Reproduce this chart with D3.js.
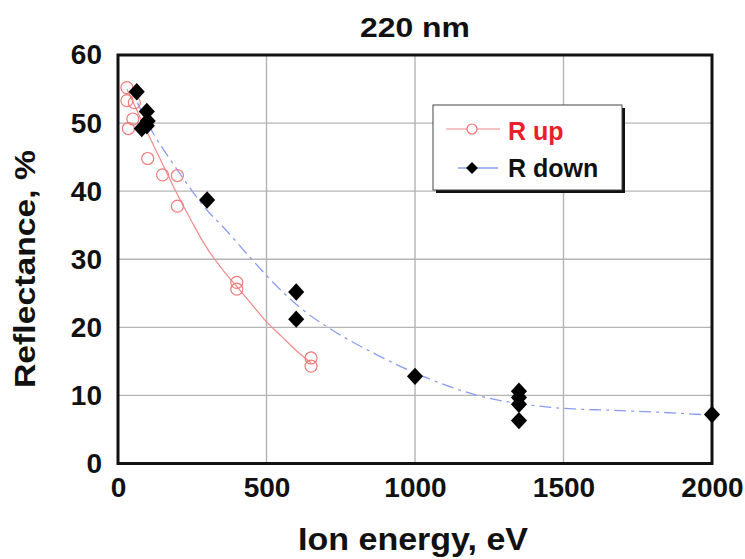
<!DOCTYPE html>
<html lang="en">
<head>
  <meta charset="UTF-8">
  <title>220 nm</title>
  <script src="https://d3js.org/d3.v7.min.js"></script>
  <style>
    body { margin: 0; background: #fff; }
    text { font-family: "Liberation Sans", Arial, sans-serif; font-weight: bold; }
  </style>
</head>
<body>
  <svg width="745" height="559"></svg>
  <script>
    // R up: open red circles
    const upX = [30, 30, 55, 50, 35, 100, 150, 200, 200, 400, 400, 650, 650];
    const upY = [55.2, 53.3, 53, 50.6, 49.2, 44.8, 42.4, 42.3, 37.8, 26.6, 25.6, 15.5, 14.3];
    // R down: black diamonds
    const downX = [63, 97, 80, 97, 100, 300, 600, 600, 1000, 1350, 1350, 1350, 1350, 2000];
    const downY = [54.6, 51.7, 49.2, 49.6, 50.3, 38.7, 25.2, 21.2, 12.8, 10.6, 9.7, 8.7, 6.3, 7.2];
    // trend lines
    const upFitX = [30, 100, 150, 200, 250, 300, 350, 400, 450, 500, 550, 600, 650];
    const upFitY = [55, 48.5, 44, 39.5, 35.4, 31.6, 28.6, 26, 23.4, 20.8, 18.7, 16.6, 14.8];
    const downFitX = [65, 120, 175, 242, 300, 355, 444, 520, 613, 725, 870, 1000, 1220, 1470, 1670, 1835, 2000];
    const downFitY = [53, 48.4, 44.7, 40.5, 37.2, 34.7, 30.3, 26.7, 22.9, 19.5, 16, 13.3, 9.9, 8.2, 7.8, 7.5, 7.1];
    const xTicks = [0, 500, 1000, 1500, 2000];
    const yTicks = [0, 10, 20, 30, 40, 50, 60];

    const svg = d3.select("svg");
    const x = d3.scaleLinear().domain([0, 2000]).range([118, 712]);
    const y = d3.scaleLinear().domain([0, 60]).range([463.5, 55]);

    // grid
    svg.append("g").selectAll("line").data(yTicks.slice(1, -1)).enter().append("line")
      .attr("x1", x(0)).attr("x2", x(2000)).attr("y1", d => y(d)).attr("y2", d => y(d))
      .attr("stroke", "#b4b4b4").attr("stroke-width", 1.4);
    svg.append("g").selectAll("line").data(xTicks.slice(1, -1)).enter().append("line")
      .attr("y1", y(0)).attr("y2", y(60)).attr("x1", d => x(d)).attr("x2", d => x(d))
      .attr("stroke", "#b4b4b4").attr("stroke-width", 1.4);

    // axes (labels only)
    const xAxis = svg.append("g").attr("transform", `translate(0,${y(0)})`)
      .call(d3.axisBottom(x).tickValues(xTicks).tickFormat(d3.format("d")).tickSize(0).tickPadding(14));
    const yAxis = svg.append("g").attr("transform", `translate(${x(0)},0)`)
      .call(d3.axisLeft(y).tickValues(yTicks).tickFormat(d3.format("d")).tickSize(0).tickPadding(16));
    [xAxis, yAxis].forEach(g => {
      g.select(".domain").remove();
      g.attr("font-size", null).attr("font-family", null);
      g.selectAll("text").attr("font-size", 28).attr("fill", "#111");
    });

    // frame
    svg.append("rect").attr("x", x(0)).attr("y", y(60))
      .attr("width", x(2000) - x(0)).attr("height", y(0) - y(60))
      .attr("fill", "none").attr("stroke", "#111").attr("stroke-width", 3);

    const line = (xs, ys) => d3.line().curve(d3.curveMonotoneX)
      .x((d, i) => x(xs[i])).y((d, i) => y(ys[i]))(xs);

    svg.append("path").attr("d", line(upFitX, upFitY))
      .attr("fill", "none").attr("stroke", "#f08a8a").attr("stroke-width", 1.2);
    svg.append("path").attr("d", line(downFitX, downFitY))
      .attr("fill", "none").attr("stroke", "#8a9cf0").attr("stroke-width", 1.3)
      .attr("stroke-dasharray", "12,5,3,5");

    const diamond = d3.symbol().type(d3.symbolSquare).size(130);
    svg.append("g").selectAll("circle").data(upX).enter().append("circle")
      .attr("cx", (d, i) => x(upX[i])).attr("cy", (d, i) => y(upY[i])).attr("r", 6)
      .attr("fill", "none").attr("stroke", "#f07a7a").attr("stroke-width", 1.2);
    svg.append("g").selectAll("path").data(downX).enter().append("path")
      .attr("d", diamond)
      .attr("transform", (d, i) => `translate(${x(downX[i])},${y(downY[i])}) scale(1,1.08) rotate(45)`)
      .attr("fill", "#000");

    // legend
    const lg = svg.append("g");
    lg.append("rect").attr("x", 436).attr("y", 108).attr("width", 189).attr("height", 85).attr("fill", "#111");
    lg.append("rect").attr("x", 433).attr("y", 105).attr("width", 189).attr("height", 85)
      .attr("fill", "#fff").attr("stroke", "#444").attr("stroke-width", 1);
    lg.append("line").attr("x1", 446).attr("x2", 500).attr("y1", 129).attr("y2", 129)
      .attr("stroke", "#f08a8a").attr("stroke-width", 1.2);
    lg.append("circle").attr("cx", 472).attr("cy", 129).attr("r", 5)
      .attr("fill", "#fff").attr("stroke", "#f07070").attr("stroke-width", 1.2);
    lg.append("line").attr("x1", 458).attr("x2", 498).attr("y1", 168).attr("y2", 168)
      .attr("stroke", "#8a9cf0").attr("stroke-width", 1.3);
    lg.append("path").attr("d", d3.symbol().type(d3.symbolSquare).size(70))
      .attr("transform", "translate(472,168) rotate(45)").attr("fill", "#000");
    lg.append("text").attr("x", 508).attr("y", 140).attr("font-size", 25).attr("fill", "#e8202a").text("R up");
    lg.append("text").attr("x", 508).attr("y", 177).attr("font-size", 25).attr("fill", "#111").text("R down");

    // titles
    svg.append("text").attr("x", 415).attr("y", 37).attr("text-anchor", "middle")
      .attr("font-size", 27).attr("textLength", 110).attr("lengthAdjust", "spacingAndGlyphs")
      .attr("fill", "#111").text("220 nm");
    svg.append("text").attr("x", 413).attr("y", 550).attr("text-anchor", "middle")
      .attr("font-size", 31).attr("textLength", 230).attr("lengthAdjust", "spacingAndGlyphs")
      .attr("fill", "#111").text("Ion energy, eV");
    svg.append("text").attr("transform", "translate(35,269) rotate(-90)").attr("text-anchor", "middle")
      .attr("font-size", 29).attr("textLength", 238).attr("lengthAdjust", "spacingAndGlyphs")
      .attr("fill", "#111").text("Reflectance, %");
  </script>
</body>
</html>
